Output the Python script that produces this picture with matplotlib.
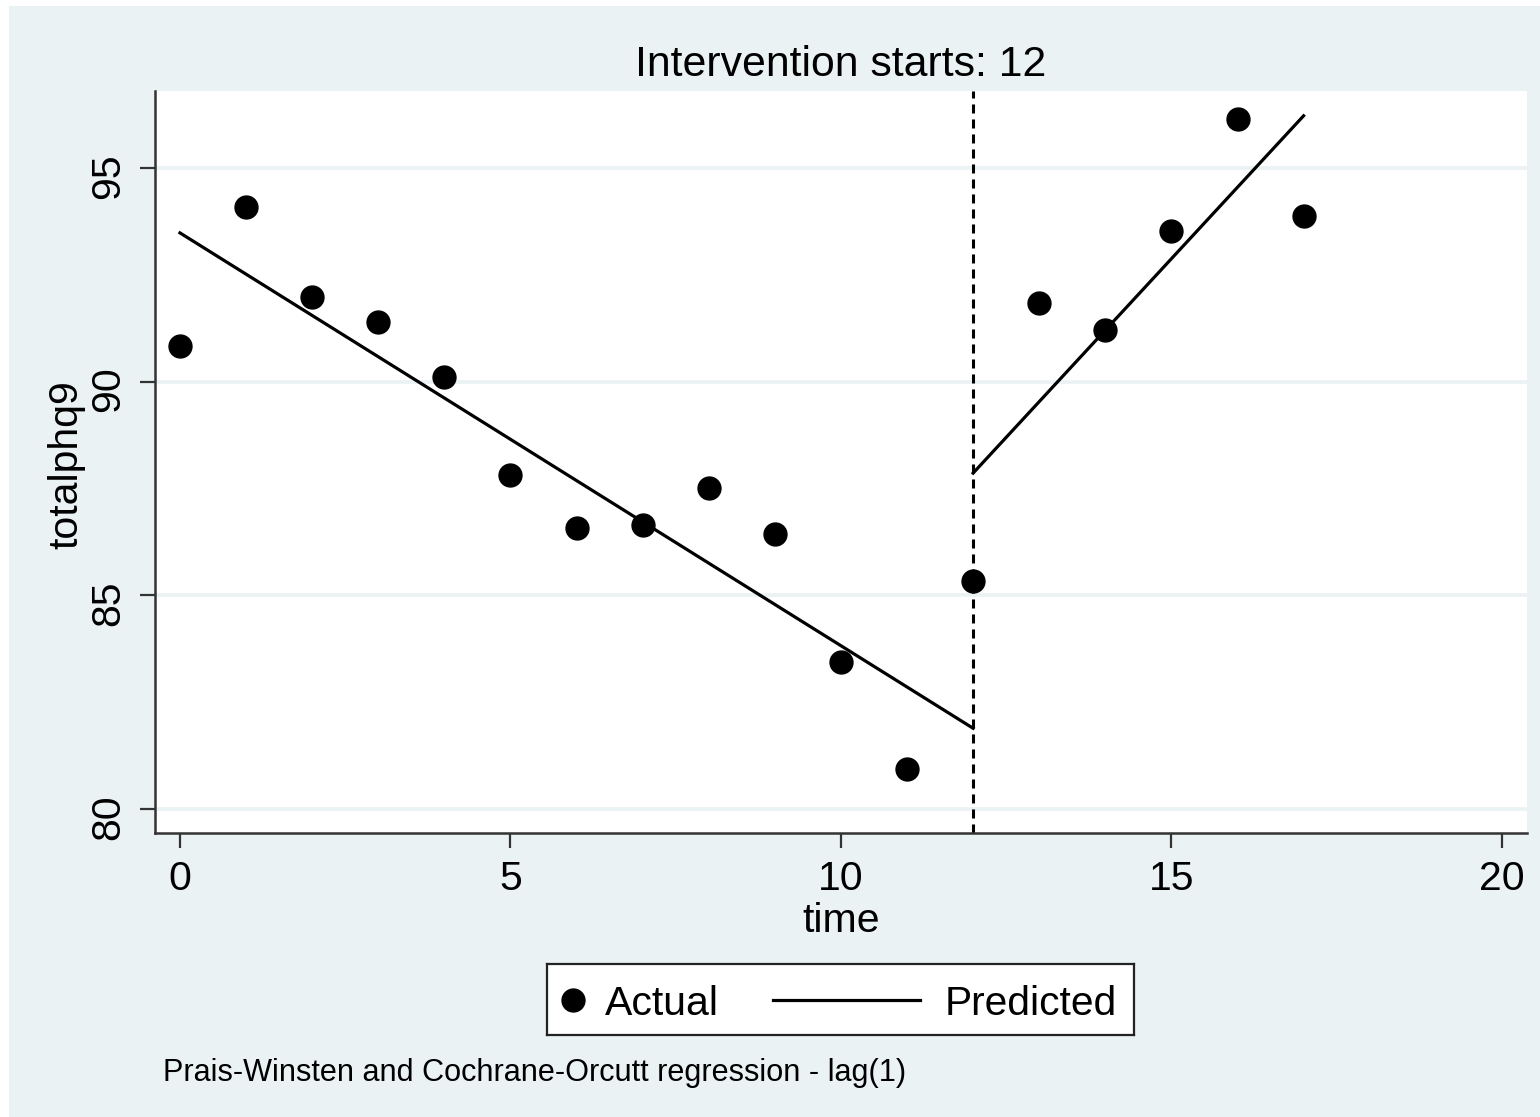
import matplotlib
matplotlib.use("Agg")
import matplotlib.pyplot as plt
from matplotlib.patches import Rectangle

plt.rcParams['font.family'] = ['Liberation Sans', 'DejaVu Sans']
plt.rcParams['lines.scale_dashes'] = False

# Observed values
time = [0, 1, 2, 3, 4, 5, 6, 7, 8, 9, 10, 11, 12, 13, 14, 15, 16, 17]
actual = [90.83, 94.09, 91.98, 91.39, 90.11, 87.81, 86.57, 86.64, 87.51,
          86.43, 83.43, 80.93, 85.33, 91.84, 91.21, 93.52, 96.15, 93.88]

# Fitted segments (start / end of each period)
pre_time = [0, 12]
pre_pred = [93.48, 81.89]
post_time = [12, 17]
post_pred = [87.86, 96.22]

intervention = 12
xticks = [0, 5, 10, 15, 20]
yticks = [80, 85, 90, 95]

bg = '#EAF2F3'
W, H = 1540, 1117
fig = plt.figure(figsize=(W / 100, H / 100), dpi=100)
fig.patch.set_facecolor('white')
# stata-like graph region (image has thin white margin top/left)
fig.add_artist(Rectangle((9 / W, 0), 1, (H - 6) / H, transform=fig.transFigure,
                         facecolor=bg, edgecolor='none', zorder=-10))

ax = fig.add_axes([155 / W, 1 - 833 / H, (1527 - 155) / W, (833 - 91) / H])
ax.set_facecolor('white')

ax.plot(time, actual, 'o', color='black', markersize=16.5, zorder=4)
ax.plot(pre_time, pre_pred, color='black', lw=2.3, zorder=3)
ax.plot(post_time, post_pred, color='black', lw=2.3, zorder=3)
ax.axvline(intervention, color='black', lw=2.2, dashes=[6.5, 4.3], zorder=2)

ax.set_xlim(-0.378, 20.38)
ax.set_ylim(79.44, 96.80)
ax.set_xticks(xticks)
ax.set_yticks(yticks)
ax.grid(axis='y', color=bg, lw=2.6, zorder=0)
ax.set_axisbelow(True)

for s in ['top', 'right']:
    ax.spines[s].set_visible(False)
for s in ['left', 'bottom']:
    ax.spines[s].set_color('#333333')
    ax.spines[s].set_linewidth(1.8)

ax.tick_params(length=10.8, width=1.6, color='#333333', labelsize=29.5, pad=9)
ax.tick_params(axis='y', labelrotation=90)

fig.text(841 / W, 1 - 76 / H, 'Intervention starts: 12', ha='center', va='baseline', fontsize=30.8)
fig.text(841 / W, 1 - 932 / H, 'time', ha='center', va='baseline', fontsize=29.5)
fig.text(66 / W, 1 - 465 / H, 'totalphq9', ha='center', va='center', rotation=90, fontsize=29.5)
fig.text(163 / W, 1 - 1081 / H, 'Prais-Winsten and Cochrane-Orcutt regression - lag(1)',
         ha='left', va='baseline', fontsize=22.1)

# legend box
lax = fig.add_axes([547 / W, 1 - 1035 / H, 587 / W, 71 / H])
lax.set_xlim(0, 1)
lax.set_ylim(0, 1)
lax.set_xticks([])
lax.set_yticks([])
lax.set_facecolor('white')
for s in lax.spines.values():
    s.set_color('#222222')
    s.set_linewidth(1.6)
lax.plot([0.0443], [0.5], 'o', color='black', markersize=16.5)
lax.text(0.0988, 0.28, 'Actual', ha='left', va='baseline', fontsize=29.5)
lax.plot([0.385, 0.635], [0.5, 0.5], color='black', lw=2.3)
lax.text(0.678, 0.28, 'Predicted', ha='left', va='baseline', fontsize=29.3)

fig.savefig('out.png', dpi=100)
